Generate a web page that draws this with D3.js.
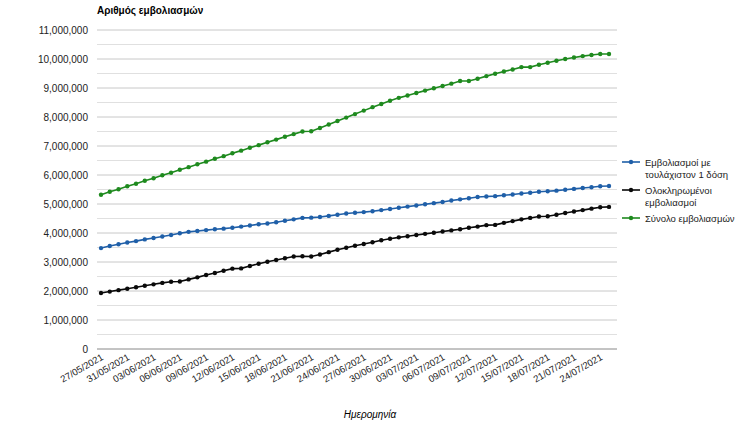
<!DOCTYPE html><html><head><meta charset="utf-8">
<script src="https://cdn.jsdelivr.net/npm/d3@7"></script>
<style>body{margin:0;background:#fff;font-family:"Liberation Sans",Arial,sans-serif}</style></head><body>
<svg id="c" width="750" height="430"></svg>
<script>
const dates=["27/05/2021","28/05/2021","29/05/2021","31/05/2021"];
for(let d=1;d<=30;d++)dates.push(String(d).padStart(2,"0")+"/06/2021");
for(let d=1;d<=25;d++)dates.push(String(d).padStart(2,"0")+"/07/2021");
const firstDose=[3.48,3.55,3.61,3.67,3.72,3.78,3.83,3.88,3.93,3.99,4.04,4.07,4.10,4.13,4.15,4.18,4.22,4.26,4.30,4.33,4.37,4.42,4.47,4.52,4.53,4.55,4.59,4.63,4.67,4.70,4.72,4.75,4.79,4.83,4.87,4.91,4.95,4.99,5.03,5.07,5.12,5.16,5.20,5.24,5.26,5.27,5.30,5.33,5.36,5.39,5.42,5.44,5.46,5.49,5.52,5.55,5.58,5.61,5.62];
const fully=[1.93,1.98,2.03,2.08,2.13,2.18,2.23,2.28,2.32,2.33,2.40,2.47,2.55,2.62,2.70,2.77,2.78,2.86,2.94,3.01,3.07,3.13,3.19,3.20,3.19,3.26,3.34,3.42,3.49,3.56,3.62,3.68,3.75,3.80,3.85,3.89,3.93,3.97,4.01,4.05,4.09,4.13,4.18,4.22,4.27,4.28,4.35,4.41,4.47,4.52,4.57,4.58,4.63,4.69,4.74,4.79,4.84,4.89,4.90];
const total=[5.32,5.42,5.51,5.61,5.70,5.80,5.89,5.99,6.08,6.18,6.27,6.37,6.46,6.56,6.65,6.75,6.84,6.94,7.03,7.13,7.22,7.32,7.41,7.50,7.51,7.62,7.74,7.86,7.98,8.10,8.22,8.34,8.45,8.56,8.66,8.74,8.83,8.91,8.99,9.07,9.15,9.24,9.24,9.32,9.41,9.49,9.57,9.64,9.72,9.72,9.80,9.87,9.94,10.00,10.05,10.10,10.14,10.17,10.17];
const seriesNames=["Εμβολιασμοί με τουλάχιστον 1 δόση","Ολοκληρωμένοι εμβολιασμοί","Σύνολο εμβολιασμών"];
const colors=["#1f5fa8","#0a0a0a","#1e8a1e"];
const yTicks=d3.range(0,11000001,1000000);
const series=[firstDose,fully,total];

const svg=d3.select("#c");
const L=97,R=617,T=30,B=349;
const x=d3.scalePoint().domain(dates).range([101,609]);
const y=d3.scaleLinear().domain([0,11000000]).range([B,T]);
svg.append("g").selectAll("line").data(d3.range(500000,11000001,500000)).join("line")
 .attr("x1",L).attr("x2",R).attr("y1",d=>y(d)).attr("y2",d=>y(d))
 .attr("stroke",d=>d%1000000===0?"#c8c8c8":"#e0e0e0").attr("stroke-width",1);
svg.append("line").attr("x1",L).attr("x2",R).attr("y1",B).attr("y2",B).attr("stroke","#888");
svg.append("g").selectAll("text").data(yTicks).join("text")
 .attr("x",88).attr("y",d=>y(d)+3.5).attr("text-anchor","end").attr("font-size",10).attr("fill","#222")
 .text(d=>d3.format(",")(d));
svg.append("g").selectAll("text").data(dates.filter((d,i)=>i%3===0)).join("text")
 .attr("transform",d=>`translate(${x(d)+3},${B+10}) rotate(-30)`).attr("text-anchor","end")
 .attr("font-size",9.5).attr("fill","#222").text(d=>d);
series.forEach((s,k)=>{
 const pts=s.map((v,i)=>[x(dates[i]),y(v*1e6)]);
 svg.append("path").attr("d",d3.line()(pts)).attr("fill","none").attr("stroke",colors[k]).attr("stroke-width",1.6);
 svg.append("g").selectAll("circle").data(pts).join("circle").attr("cx",p=>p[0]).attr("cy",p=>p[1]).attr("r",2.2).attr("fill",colors[k]);
});
svg.append("text").attr("x",97).attr("y",14).attr("font-size",10).attr("font-weight","bold").text("Αριθμός εμβολιασμών");
svg.append("text").attr("x",370).attr("y",418).attr("font-size",10).attr("font-style","italic").attr("text-anchor","middle").text("Ημερομηνία");
const leg=[[["Εμβολιασμοί με","τουλάχιστον 1 δόση"],162],[["Ολοκληρωμένοι","εμβολιασμοί"],190],[["Σύνολο εμβολιασμών"],218]];
leg.forEach(([lines,yy],k)=>{
 svg.append("line").attr("x1",622).attr("x2",640).attr("y1",yy).attr("y2",yy).attr("stroke",colors[k]).attr("stroke-width",1.6);
 svg.append("circle").attr("cx",631).attr("cy",yy).attr("r",2.2).attr("fill",colors[k]);
 lines.forEach((t,j)=>svg.append("text").attr("x",645).attr("y",yy+3.5+j*12).attr("font-size",9.5).attr("fill","#222").text(t));
});
</script></body></html>
